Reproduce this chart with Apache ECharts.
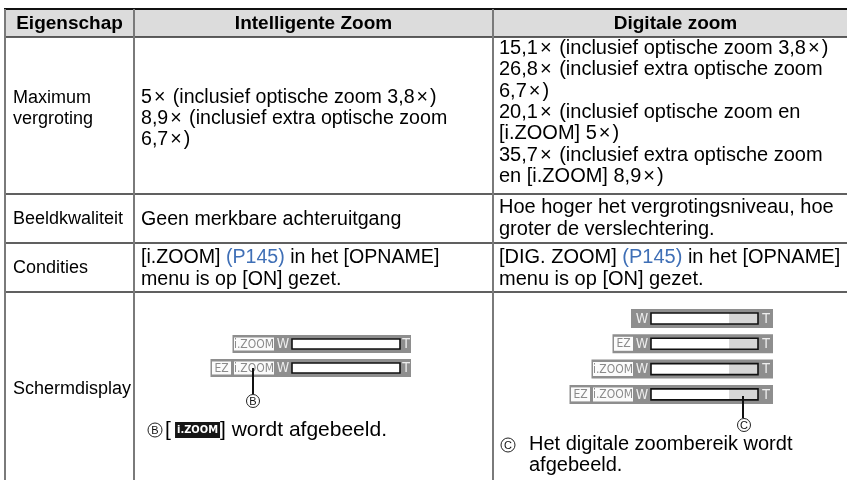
<!DOCTYPE html>
<html><head><meta charset="utf-8">
<script src="https://cdn.jsdelivr.net/npm/echarts@6/dist/echarts.min.js"></script>
<style>html,body{margin:0;padding:0;background:#fff}#c{width:847px;height:480px}</style>
</head><body><div id="c"></div>
<script>
// ---------- content ----------
const headers = ['Eigenschap', 'Intelligente Zoom', 'Digitale zoom'];
const properties = ['Maximum\nvergroting', 'Beeldkwaliteit', 'Condities', 'Schermdisplay'];
const intelligentZoom = [
  '5\u00d7 (inclusief optische zoom 3,8\u00d7)\n8,9\u00d7 (inclusief extra optische zoom\n6,7\u00d7)',
  'Geen merkbare achteruitgang',
  '[i.ZOOM] {link|(P145)} in het [OPNAME]\nmenu is op [ON] gezet.',
  null
];
const digitalZoom = [
  '15,1\u00d7 (inclusief optische zoom 3,8\u00d7)\n26,8\u00d7 (inclusief extra optische zoom\n6,7\u00d7)\n20,1\u00d7 (inclusief optische zoom en\n[i.ZOOM] 5\u00d7)\n35,7\u00d7 (inclusief extra optische zoom\nen [i.ZOOM] 8,9\u00d7)',
  'Hoe hoger het vergrotingsniveau, hoe\ngroter de verslechtering.',
  '[DIG. ZOOM] {link|(P145)} in het [OPNAME]\nmenu is op [ON] gezet.',
  null
];
const intelligentBars = [['i.ZOOM'], ['EZ', 'i.ZOOM']];
const digitalBars = [[], ['EZ'], ['i.ZOOM'], ['EZ', 'i.ZOOM']];
const noteMarks = ['B', 'C'];
const noteTexts = ['[\u2009{inv|i.ZOOM}] wordt afgebeeld.', 'Het digitale zoombereik wordt\nafgebeeld.'];

// ---------- layout (positions / styles only) ----------
const L = {
  colEdges: [5, 134, 493, 858],
  rowEdges: [9, 37, 194, 243, 292, 484],
  pad: [8, 7, 6],
  font: 'Liberation Sans, Arial, sans-serif',
  narrow: 'DejaVu Sans Condensed, Liberation Sans Narrow, Liberation Sans, sans-serif',
  size: [18, 19.6, 20], headSize: 19, lh: 21.3,
  noteSize: [21, 20],
  dy: [[-8, 2, -4], [0, 0, -1], [0, 0, 0], [0, 0, 0]],
  headerFill: '#dcdcdc',
  link: '#3f6fb6',
  bars: [
    { right: 411, wX: 283, barX0: 292, barX1: 400, tX: 406, labelEnd: 274, top: 335, pitch: 24, h: 18, digital: false },
    { right: 773, wX: 642, barX0: 651, barX1: 758, tX: 766, labelEnd: 633, top: 309, pitch: 25.3, h: 19, digital: true, dFrom: 0.73 }
  ],
  labelW: { 'i.ZOOM': 40, 'EZ': 19 },
  labelGap: 3,
  pointers: [
    { x: 253, y0: 368, y1: 394, cx: 253, cy: 401 },
    { x: 743, y0: 396, y1: 418, cx: 744, cy: 425 }
  ],
  notes: [
    { mx: 155, my: 430, tx: 165, ty: 430 },
    { mx: 508, my: 445, tx: 529, ty: 455 }
  ]
};

const colTexts = [properties, intelligentZoom, digitalZoom];
const cells = [];
for (let r = 0; r < 5; r++) for (let c = 0; c < 3; c++) cells.push([c, r]);
const barItems = [];
intelligentBars.forEach((b, i) => barItems.push([0, i]));
digitalBars.forEach((b, i) => barItems.push([1, i]));
const barLabels = [intelligentBars, digitalBars];

function cellItem(params, api) {
  const c = api.value(0), r = api.value(1);
  const p0 = api.coord([L.colEdges[c], L.rowEdges[r]]);
  const p1 = api.coord([L.colEdges[c + 1], L.rowEdges[r + 1]]);
  const ch = [];
  if (r === 0) {
    ch.push({ type: 'rect', shape: { x: p0[0], y: p0[1], width: p1[0] - p0[0], height: p1[1] - p0[1] }, style: { fill: L.headerFill } });
    ch.push({ type: 'text', style: { text: headers[c], x: (p0[0] + p1[0]) / 2, y: (p0[1] + p1[1]) / 2 + 1, align: 'center', verticalAlign: 'middle', fontFamily: L.font, fontSize: L.headSize, fontWeight: 'bold', fill: '#000' } });
  } else {
    const t = colTexts[c][r - 1];
    if (t) {
      const fs = L.size[c];
      ch.push({ type: 'text', style: {
        text: t.replace(/\u00d7/g, '{x|\u00d7}'), x: p0[0] + L.pad[c], y: (p0[1] + p1[1]) / 2 + 1 + L.dy[r - 1][c], align: 'left', verticalAlign: 'middle',
        fontFamily: L.font, fontSize: fs, lineHeight: L.lh, fill: '#000',
        rich: {
          link: { fill: L.link, color: L.link, fontFamily: L.font, fontSize: fs, lineHeight: L.lh },
          x: { fill: '#000', fontFamily: L.font, fontSize: fs, lineHeight: L.lh, padding: [0, 2, 0, 2] }
        }
      } });
    }
  }
  return { type: 'group', children: ch };
}

function linesItem(params, api) {
  const ch = [];
  const x0 = L.colEdges[0], x1 = L.colEdges[3];
  L.rowEdges.forEach((y, i) => {
    if (i === L.rowEdges.length - 1) return;
    const a = api.coord([x0, y]), b = api.coord([x1, y]);
    ch.push({ type: 'line', shape: { x1: a[0] - 1, y1: a[1], x2: b[0], y2: b[1] }, style: { stroke: i === 0 ? '#111' : '#2b2b2b', lineWidth: i === 0 ? 2 : 1.4 } });
  });
  L.colEdges.forEach((x) => {
    const a = api.coord([x, L.rowEdges[0]]), b = api.coord([x, L.rowEdges[5]]);
    ch.push({ type: 'line', shape: { x1: a[0], y1: a[1], x2: b[0], y2: b[1] }, style: { stroke: '#7a7a7a', lineWidth: 2 } });
  });
  return { type: 'group', children: ch };
}

function barItem(params, api) {
  const g = api.value(0), i = api.value(1);
  const B = L.bars[g];
  const labels = barLabels[g][i];
  const top = B.top + i * B.pitch;
  const P = (x, y) => api.coord([x, y]);
  const ch = [];
  let cursor = B.labelEnd;
  const boxes = [];
  for (let k = labels.length - 1; k >= 0; k--) {
    const w = L.labelW[labels[k]];
    boxes.push({ t: labels[k], x0: cursor - w, x1: cursor });
    cursor = cursor - w - L.labelGap;
  }
  const left = labels.length ? boxes[boxes.length - 1].x0 - 1.5 : B.wX - 11;
  let a = P(left, top), b = P(B.right, top + B.h);
  ch.push({ type: 'rect', shape: { x: a[0], y: a[1], width: b[0] - a[0], height: b[1] - a[1] }, style: { fill: '#8e8e8e' } });
  boxes.forEach(bx => {
    const p = P(bx.x0, top + 2.5), q = P(bx.x1, top + B.h - 2.5);
    ch.push({ type: 'rect', shape: { x: p[0], y: p[1], width: q[0] - p[0], height: q[1] - p[1] }, style: { fill: '#fbfbfb' } });
    ch.push({ type: 'text', style: { text: bx.t, x: (p[0] + q[0]) / 2, y: (p[1] + q[1]) / 2 + 0.5, align: 'center', verticalAlign: 'middle', fontFamily: L.narrow, fontSize: 12, fill: '#8a8a8a' } });
  });
  const wp = P(B.wX, top + B.h / 2);
  ch.push({ type: 'text', style: { text: 'W', x: wp[0], y: wp[1] + 0.5, align: 'center', verticalAlign: 'middle', fontFamily: L.narrow, fontSize: 14, fill: '#eeeeee' } });
  const tp = P(B.tX, top + B.h / 2);
  ch.push({ type: 'text', style: { text: 'T', x: tp[0], y: tp[1] + 0.5, align: 'center', verticalAlign: 'middle', fontFamily: L.narrow, fontSize: 14, fill: '#eeeeee' } });
  const p = P(B.barX0, top + 4), q = P(B.barX1, top + B.h - 4);
  ch.push({ type: 'rect', shape: { x: p[0], y: p[1], width: q[0] - p[0], height: q[1] - p[1] }, style: { fill: '#ffffff' } });
  if (B.digital) {
    const dx = p[0] + (q[0] - p[0]) * B.dFrom;
    ch.push({ type: 'rect', shape: { x: dx, y: p[1], width: q[0] - dx, height: q[1] - p[1] }, style: { fill: '#d6d6d6' } });
  }
  ch.push({ type: 'rect', shape: { x: p[0], y: p[1], width: q[0] - p[0], height: q[1] - p[1] }, style: { fill: 'none', stroke: '#111', lineWidth: 1.6 } });
  return { type: 'group', children: ch };
}

function noteItem(params, api) {
  const k = api.value(0);
  const ptr = L.pointers[k], N = L.notes[k];
  const ch = [];
  const a = api.coord([ptr.x, ptr.y0]), b = api.coord([ptr.x, ptr.y1]);
  ch.push({ type: 'line', shape: { x1: a[0], y1: a[1], x2: b[0], y2: b[1] }, style: { stroke: '#111', lineWidth: 2 } });
  const circ = (cx, cy, r, fs) => {
    const c = api.coord([cx, cy]);
    ch.push({ type: 'circle', shape: { cx: c[0], cy: c[1], r: r }, style: { fill: '#fff', stroke: '#222', lineWidth: 1 } });
    ch.push({ type: 'text', style: { text: noteMarks[k], x: c[0], y: c[1] + 0.5, align: 'center', verticalAlign: 'middle', fontFamily: L.font, fontSize: fs, fill: '#111' } });
  };
  circ(ptr.cx, ptr.cy, 6.5, 11);
  circ(N.mx, N.my, 7, 11);
  const t = api.coord([N.tx, N.ty]);
  ch.push({ type: 'text', style: {
    text: noteTexts[k], x: t[0], y: t[1], align: 'left', verticalAlign: 'middle',
    fontFamily: L.font, fontSize: L.noteSize[k], lineHeight: L.lh, fill: '#000',
    rich: { inv: { backgroundColor: '#161616', fill: '#fff', color: '#fff', fontFamily: L.narrow, fontWeight: 'bold', fontSize: 11, padding: [3, 2, 2, 2], lineHeight: 17 } }
  } });
  return { type: 'group', children: ch };
}

const chart = echarts.init(document.getElementById('c'), null, { renderer: 'canvas' });
chart.setOption({
  animation: false,
  backgroundColor: '#ffffff',
  grid: { left: 0, right: 0, top: 0, bottom: 0 },
  xAxis: { type: 'value', min: 0, max: 847, show: false },
  yAxis: { type: 'value', min: 0, max: 480, inverse: true, show: false },
  series: [
    { type: 'custom', renderItem: cellItem, data: cells, silent: true, clip: false, z: 1 },
    { type: 'custom', renderItem: linesItem, data: [[0, 0]], silent: true, clip: false, z: 2 },
    { type: 'custom', renderItem: barItem, data: barItems, silent: true, clip: false, z: 3 },
    { type: 'custom', renderItem: noteItem, data: [[0, 0], [1, 0]], silent: true, clip: false, z: 4 }
  ]
});
</script></body></html>
